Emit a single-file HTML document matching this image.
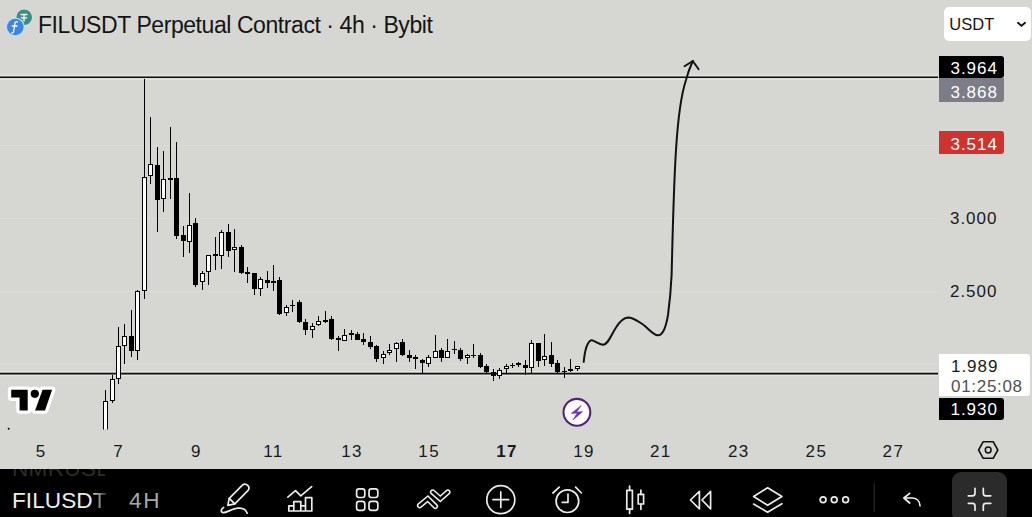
<!DOCTYPE html>
<html><head><meta charset="utf-8">
<style>
*{margin:0;padding:0;box-sizing:border-box}
html,body{width:1032px;height:517px;overflow:hidden}
body{background:#d6d7d2;position:relative;font-family:"Liberation Sans",sans-serif;color:#111}
.abs{position:absolute}
#title{left:38px;top:11.5px;font-size:23px;letter-spacing:-0.43px;white-space:nowrap;color:#141414}
.lbl{position:absolute;left:939px;width:65px;height:23px;font-size:17px;letter-spacing:0.95px;line-height:23px;color:#fff;padding-left:11.5px;border-radius:0 3px 3px 0}
.ax{position:absolute;font-size:17px;letter-spacing:0.95px;color:#1a1a1a;margin-top:1px}
.dt{position:absolute;top:441.5px;font-size:17px;letter-spacing:1.4px;text-indent:1.4px;color:#1a1a1a;transform:translateX(-50%)}
#tb{position:absolute;left:0;top:469px;width:1032px;height:48px;background:#000;overflow:hidden}
</style></head><body>
<svg class="abs" style="left:0;top:0" width="1032" height="517" viewBox="0 0 1032 517">
  <!-- grid -->
  <g stroke="#ffffff" stroke-opacity="0.12" stroke-width="1" shape-rendering="crispEdges">
   <line x1="0" y1="145.5" x2="938" y2="145.5"/>
   <line x1="0" y1="218.5" x2="938" y2="218.5"/>
   <line x1="0" y1="291.5" x2="938" y2="291.5"/>
   <line x1="0" y1="364.5" x2="938" y2="364.5"/>
  </g>
  <!-- line halos -->
  <g stroke="#f2f1ee" stroke-opacity="0.55" stroke-width="1.2">
   <line x1="0" y1="75.2" x2="938" y2="75.2"/>
   <line x1="0" y1="79.3" x2="938" y2="79.3"/>
   <line x1="0" y1="371.6" x2="938" y2="371.6"/>
   <line x1="0" y1="375.7" x2="938" y2="375.7"/>
  </g>
  <!-- horizontal lines -->
  <line x1="0" y1="77.2" x2="938" y2="77.2" stroke="#111" stroke-width="1.6"/>
  <line x1="0" y1="373.6" x2="938" y2="373.6" stroke="#111" stroke-width="1.6"/>
  <defs><clipPath id="cp"><rect x="0" y="0" width="940" height="429.5"/></clipPath></defs>
  <g stroke="#000" stroke-width="1" fill="none" shape-rendering="crispEdges" clip-path="url(#cp)">
  <line x1="105.5" y1="390.2" x2="105.5" y2="440.0"/>
<rect x="103.5" y="401.1" width="4" height="38.4" fill="#fff" stroke="#000" stroke-width="1"/>
<line x1="112.5" y1="374.7" x2="112.5" y2="403.4"/>
<rect x="110.5" y="379.9" width="4" height="20.2" fill="#fff" stroke="#000" stroke-width="1"/>
<line x1="118.5" y1="326.5" x2="118.5" y2="383.5"/>
<rect x="116.5" y="346.5" width="4" height="32.0" fill="#fff" stroke="#000" stroke-width="1"/>
<line x1="124.5" y1="323.5" x2="124.5" y2="364.0"/>
<rect x="122.5" y="336.0" width="4" height="9.0" fill="#fff" stroke="#000" stroke-width="1"/>
<line x1="131.5" y1="310.0" x2="131.5" y2="356.6"/>
<rect x="129" y="335.5" width="5" height="15.0" fill="#000" stroke="none"/>
<line x1="137.5" y1="289.5" x2="137.5" y2="359.6"/>
<rect x="135.5" y="291.5" width="4" height="58.5" fill="#fff" stroke="#000" stroke-width="1"/>
<line x1="144.5" y1="79.0" x2="144.5" y2="298.8"/>
<rect x="142.5" y="177.5" width="4" height="113.0" fill="#fff" stroke="#000" stroke-width="1"/>
<line x1="150.5" y1="117.0" x2="150.5" y2="184.0"/>
<rect x="148.5" y="164.5" width="4" height="11.0" fill="#fff" stroke="#000" stroke-width="1"/>
<line x1="157.5" y1="146.5" x2="157.5" y2="232.0"/>
<rect x="155" y="164.6" width="5" height="34.9" fill="#000" stroke="none"/>
<line x1="163.5" y1="151.0" x2="163.5" y2="212.0"/>
<rect x="161.5" y="179.3" width="4" height="19.6" fill="#fff" stroke="#000" stroke-width="1"/>
<line x1="170.5" y1="127.0" x2="170.5" y2="198.5"/>
<rect x="168" y="177.5" width="5" height="2.5" fill="#000" stroke="none"/>
<line x1="176.5" y1="142.0" x2="176.5" y2="239.0"/>
<rect x="174" y="177.5" width="5" height="58.5" fill="#000" stroke="none"/>
<line x1="183.5" y1="225.5" x2="183.5" y2="257.0"/>
<rect x="181" y="234.5" width="5" height="6.0" fill="#000" stroke="none"/>
<line x1="189.5" y1="192.5" x2="189.5" y2="252.6"/>
<rect x="187.5" y="225.1" width="4" height="15.9" fill="#fff" stroke="#000" stroke-width="1"/>
<line x1="195.5" y1="218.0" x2="195.5" y2="287.0"/>
<rect x="193" y="222.5" width="5" height="62.5" fill="#000" stroke="none"/>
<line x1="202.5" y1="271.0" x2="202.5" y2="290.0"/>
<rect x="200.5" y="273.0" width="4" height="8.5" fill="#fff" stroke="#000" stroke-width="1"/>
<line x1="208.5" y1="254.5" x2="208.5" y2="285.4"/>
<rect x="206.5" y="255.0" width="4" height="16.8" fill="#fff" stroke="#000" stroke-width="1"/>
<line x1="215.5" y1="237.0" x2="215.5" y2="270.0"/>
<rect x="213" y="253.5" width="5" height="2.0" fill="#000" stroke="none"/>
<line x1="221.5" y1="230.0" x2="221.5" y2="269.0"/>
<rect x="219.5" y="232.5" width="4" height="22.5" fill="#fff" stroke="#000" stroke-width="1"/>
<line x1="228.5" y1="223.5" x2="228.5" y2="257.4"/>
<rect x="226" y="232.0" width="5" height="18.6" fill="#000" stroke="none"/>
<line x1="234.5" y1="229.3" x2="234.5" y2="271.9"/>
<rect x="232.5" y="247.8" width="4" height="1.4" fill="#fff" stroke="#000" stroke-width="1"/>
<line x1="241.5" y1="245.4" x2="241.5" y2="273.8"/>
<rect x="239" y="247.0" width="5" height="26.2" fill="#000" stroke="none"/>
<line x1="247.5" y1="267.0" x2="247.5" y2="282.5"/>
<rect x="245" y="271.5" width="5" height="2.0" fill="#000" stroke="none"/>
<line x1="254.5" y1="272.9" x2="254.5" y2="295.0"/>
<rect x="252" y="272.9" width="5" height="16.0" fill="#000" stroke="none"/>
<line x1="260.5" y1="277.3" x2="260.5" y2="296.0"/>
<rect x="258.5" y="279.7" width="4" height="8.8" fill="#fff" stroke="#000" stroke-width="1"/>
<line x1="267.5" y1="271.0" x2="267.5" y2="288.3"/>
<rect x="265" y="279.6" width="5" height="3.4" fill="#000" stroke="none"/>
<line x1="273.5" y1="265.0" x2="273.5" y2="291.0"/>
<rect x="271.5" y="281.1" width="4" height="1.4" fill="#fff" stroke="#000" stroke-width="1"/>
<line x1="279.5" y1="276.7" x2="279.5" y2="314.5"/>
<rect x="277" y="279.7" width="5" height="33.8" fill="#000" stroke="none"/>
<line x1="286.5" y1="304.8" x2="286.5" y2="316.0"/>
<rect x="284.5" y="307.3" width="4" height="5.2" fill="#fff" stroke="#000" stroke-width="1"/>
<line x1="292.5" y1="300.0" x2="292.5" y2="311.6"/>
<rect x="290" y="304.8" width="5" height="1.6" fill="#000" stroke="none"/>
<line x1="299.5" y1="300.0" x2="299.5" y2="323.0"/>
<rect x="297" y="302.0" width="5" height="20.2" fill="#000" stroke="none"/>
<line x1="305.5" y1="319.3" x2="305.5" y2="334.8"/>
<rect x="303" y="321.8" width="5" height="7.8" fill="#000" stroke="none"/>
<line x1="312.5" y1="323.2" x2="312.5" y2="337.7"/>
<rect x="310.5" y="326.5" width="4" height="3.0" fill="#fff" stroke="#000" stroke-width="1"/>
<line x1="318.5" y1="315.5" x2="318.5" y2="326.0"/>
<rect x="316.5" y="321.8" width="4" height="2.7" fill="#fff" stroke="#000" stroke-width="1"/>
<line x1="325.5" y1="311.0" x2="325.5" y2="323.2"/>
<rect x="323" y="320.0" width="5" height="1.5" fill="#000" stroke="none"/>
<line x1="331.5" y1="316.4" x2="331.5" y2="339.5"/>
<rect x="329" y="319.3" width="5" height="19.9" fill="#000" stroke="none"/>
<line x1="338.5" y1="335.8" x2="338.5" y2="351.2"/>
<rect x="336" y="338.0" width="5" height="1.5" fill="#000" stroke="none"/>
<line x1="344.5" y1="329.0" x2="344.5" y2="341.0"/>
<rect x="342.5" y="335.9" width="4" height="4.2" fill="#fff" stroke="#000" stroke-width="1"/>
<line x1="351.5" y1="329.6" x2="351.5" y2="340.0"/>
<rect x="349" y="333.0" width="5" height="1.5" fill="#000" stroke="none"/>
<line x1="357.5" y1="331.5" x2="357.5" y2="340.0"/>
<rect x="355" y="334.4" width="5" height="5.2" fill="#000" stroke="none"/>
<line x1="363.5" y1="333.4" x2="363.5" y2="344.5"/>
<rect x="361" y="339.2" width="5" height="2.8" fill="#000" stroke="none"/>
<line x1="370.5" y1="335.8" x2="370.5" y2="349.3"/>
<rect x="368" y="341.8" width="5" height="5.2" fill="#000" stroke="none"/>
<line x1="376.5" y1="344.9" x2="376.5" y2="361.9"/>
<rect x="374" y="346.4" width="5" height="12.6" fill="#000" stroke="none"/>
<line x1="383.5" y1="351.3" x2="383.5" y2="363.8"/>
<rect x="381.5" y="354.7" width="4" height="2.8" fill="#fff" stroke="#000" stroke-width="1"/>
<line x1="389.5" y1="343.5" x2="389.5" y2="355.1"/>
<rect x="387.5" y="350.8" width="4" height="1.9" fill="#fff" stroke="#000" stroke-width="1"/>
<line x1="396.5" y1="342.2" x2="396.5" y2="361.9"/>
<rect x="394.5" y="343.1" width="4" height="5.7" fill="#fff" stroke="#000" stroke-width="1"/>
<line x1="402.5" y1="338.7" x2="402.5" y2="356.0"/>
<rect x="400" y="341.6" width="5" height="13.5" fill="#000" stroke="none"/>
<line x1="409.5" y1="350.3" x2="409.5" y2="361.9"/>
<rect x="407" y="354.5" width="5" height="3.5" fill="#000" stroke="none"/>
<line x1="415.5" y1="355.1" x2="415.5" y2="368.7"/>
<rect x="413" y="357.0" width="5" height="1.5" fill="#000" stroke="none"/>
<line x1="422.5" y1="359.0" x2="422.5" y2="373.5"/>
<rect x="420" y="359.6" width="5" height="3.8" fill="#000" stroke="none"/>
<line x1="428.5" y1="355.1" x2="428.5" y2="366.7"/>
<rect x="426.5" y="357.9" width="4" height="5.4" fill="#fff" stroke="#000" stroke-width="1"/>
<line x1="435.5" y1="334.8" x2="435.5" y2="358.0"/>
<rect x="433.5" y="351.2" width="4" height="5.9" fill="#fff" stroke="#000" stroke-width="1"/>
<line x1="441.5" y1="348.4" x2="441.5" y2="362.3"/>
<rect x="439" y="349.9" width="5" height="7.7" fill="#000" stroke="none"/>
<line x1="447.5" y1="338.7" x2="447.5" y2="358.0"/>
<rect x="445.5" y="351.2" width="4" height="5.9" fill="#fff" stroke="#000" stroke-width="1"/>
<line x1="454.5" y1="341.0" x2="454.5" y2="354.2"/>
<rect x="452" y="348.5" width="5" height="1.5" fill="#000" stroke="none"/>
<line x1="460.5" y1="348.4" x2="460.5" y2="361.0"/>
<rect x="458" y="350.3" width="5" height="8.7" fill="#000" stroke="none"/>
<line x1="467.5" y1="353.8" x2="467.5" y2="363.8"/>
<rect x="465.5" y="355.6" width="4" height="2.3" fill="#fff" stroke="#000" stroke-width="1"/>
<line x1="473.5" y1="344.1" x2="473.5" y2="358.0"/>
<rect x="471" y="354.5" width="5" height="1.5" fill="#000" stroke="none"/>
<line x1="480.5" y1="352.6" x2="480.5" y2="367.7"/>
<rect x="478" y="355.1" width="5" height="11.6" fill="#000" stroke="none"/>
<line x1="486.5" y1="363.8" x2="486.5" y2="373.1"/>
<rect x="484" y="365.8" width="5" height="6.2" fill="#000" stroke="none"/>
<line x1="493.5" y1="368.7" x2="493.5" y2="381.2"/>
<rect x="491" y="371.6" width="5" height="4.2" fill="#000" stroke="none"/>
<line x1="499.5" y1="367.7" x2="499.5" y2="379.3"/>
<rect x="497.5" y="370.1" width="4" height="5.2" fill="#fff" stroke="#000" stroke-width="1"/>
<line x1="506.5" y1="363.8" x2="506.5" y2="373.1"/>
<rect x="504.5" y="366.3" width="4" height="2.4" fill="#fff" stroke="#000" stroke-width="1"/>
<line x1="512.5" y1="362.9" x2="512.5" y2="367.7"/>
<rect x="510" y="364.6" width="5" height="1.5" fill="#000" stroke="none"/>
<line x1="518.5" y1="361.9" x2="518.5" y2="366.7"/>
<rect x="516" y="363.0" width="5" height="1.5" fill="#000" stroke="none"/>
<line x1="525.5" y1="360.0" x2="525.5" y2="375.0"/>
<rect x="523" y="365.4" width="5" height="2.7" fill="#000" stroke="none"/>
<line x1="531.5" y1="339.7" x2="531.5" y2="372.8"/>
<rect x="529.5" y="343.8" width="4" height="23.2" fill="#fff" stroke="#000" stroke-width="1"/>
<line x1="538.5" y1="342.6" x2="538.5" y2="366.7"/>
<rect x="536" y="343.0" width="5" height="17.5" fill="#000" stroke="none"/>
<line x1="544.5" y1="333.5" x2="544.5" y2="366.0"/>
<rect x="542.5" y="356.0" width="4" height="3.8" fill="#fff" stroke="#000" stroke-width="1"/>
<line x1="551.5" y1="342.3" x2="551.5" y2="366.7"/>
<rect x="549" y="355.2" width="5" height="8.3" fill="#000" stroke="none"/>
<line x1="557.5" y1="360.3" x2="557.5" y2="372.5"/>
<rect x="555" y="363.0" width="5" height="9.1" fill="#000" stroke="none"/>
<line x1="564.5" y1="366.7" x2="564.5" y2="378.0"/>
<rect x="562" y="370.5" width="5" height="1.5" fill="#000" stroke="none"/>
<line x1="570.5" y1="358.6" x2="570.5" y2="372.0"/>
<rect x="568" y="369.4" width="5" height="1.5" fill="#000" stroke="none"/>
<line x1="577.5" y1="365.8" x2="577.5" y2="371.4"/>
<rect x="575.5" y="366.3" width="4" height="1.7" fill="#fff" stroke="#000" stroke-width="1"/>

  </g>
  <!-- hand drawn curve -->
  <path d="M583.7,361.8 C584.5,355 585,349 587.5,344.5 C589,341.5 590.5,340 592,340.3 C595,341 599,344.5 603,344.7 C608,345 611,335 616,327.5 C620,321 624,317.5 628,317.4 C634,317.5 638,321.5 643,324.5 C648,328 653,335 658,335.3 C663,335.5 666,327 668,315 C670,300 671,288 671.6,275 C672.5,240 673.5,190 676,150 C678,118 681,95 686,80 C688,72 690.5,66 692.8,61" stroke="#111" stroke-width="2" fill="none" stroke-linecap="round"/>
  <path d="M684.5,66.2 L692.8,61 L698.6,69.3" stroke="#111" stroke-width="1.9" fill="none" stroke-linecap="round" stroke-linejoin="round"/>
  <!-- TV logo -->
  <g stroke="#fff" stroke-width="6.6" stroke-linejoin="round" fill="#fff">
   <path d="M11.2,389.8 H27.7 V410.4 H19.6 V397.6 H11.2 Z"/>
   <circle cx="34.8" cy="393.8" r="4.1"/>
   <path d="M42.6,389.8 H52.1 L45,410.4 H35.1 Z"/>
   <path d="M27.7,392 H42 V408 H27.7 Z"/>
  </g>
  <path d="M11.2,389.8 H27.7 V410.4 H19.6 V397.6 H11.2 Z" fill="#000"/>
  <circle cx="34.8" cy="393.8" r="4.1" fill="#000"/>
  <path d="M42.6,389.8 H52.1 L45,410.4 H35.1 Z" fill="#000"/>
  <circle cx="8.7" cy="428.8" r="1" fill="#000"/>
  <!-- lightning -->
  <circle cx="576.9" cy="412.3" r="14.2" fill="#fbe6fb"/>
  <circle cx="576.9" cy="412.3" r="13.4" fill="#fdfbfd" stroke="#512478" stroke-width="2.1"/>
  <path d="M581.2,405.6 L571.3,413.4 L577.2,413.1 L573,419.9 L582.5,411.7 L576.6,412 Z" fill="#6f35b5" stroke="#6f35b5" stroke-width="0.6" stroke-linejoin="round"/>
  <!-- hexagon -->
  <path d="M978.6,450 L983.2,441.7 H993.2 L997.8,450 L993.2,458.3 H983.2 Z" stroke="#111" stroke-width="1.6" fill="none" stroke-linejoin="round"/>
  <circle cx="988.2" cy="450" r="2.9" stroke="#111" stroke-width="1.5" fill="none"/>
  <!-- coin logos -->
  <circle cx="24.2" cy="17.3" r="8.6" fill="#cfe3df"/>
  <circle cx="24.2" cy="17.3" r="7.8" fill="#3d8c85"/>
  <path d="M20.5,14.6 H27.5 M24,14.6 V21.5 M21,17.3 C22.5,18.3 25.5,18.3 27,17.3" stroke="#e8f4f2" stroke-width="1.5" fill="none"/>
  <circle cx="15.3" cy="27" r="9.6" fill="#c4d8f6"/>
  <circle cx="15.3" cy="27" r="8.3" fill="#3d86df"/>
  <path d="M17.5,21.8 C16,21.3 15,22.3 14.8,24 L13.6,31.5 C13.4,32.6 12.6,33 11.8,32.8 M12.2,26 H17" stroke="#fff" stroke-width="1.3" fill="none" stroke-linecap="round"/>
</svg>
<div id="title" class="abs">FILUSDT Perpetual Contract · 4h · Bybit</div>
<!-- USDT dropdown -->
<div class="abs" style="left:943.7px;top:6.8px;width:87px;height:34.3px;background:#fff;border-radius:5px"></div>
<div class="abs" style="left:949.3px;top:14.6px;font-size:16.5px;color:#151515">USDT</div>
<svg class="abs" style="left:1014px;top:19px" width="14" height="10"><path d="M4,3.8 L7.5,6.9 L11,3.8" stroke="#111" stroke-width="1.9" fill="none" stroke-linecap="round" stroke-linejoin="round"/></svg>
<!-- price labels -->
<div class="lbl" style="top:56px;height:22.4px;line-height:26.4px;background:#000">3.964</div>
<div class="lbl" style="top:78.4px;height:24px;line-height:29px;background:#7c7d88;border-radius:0 0 3px 0">3.868</div>
<div class="lbl" style="top:130.8px;height:23.5px;line-height:27.5px;background:#d0332f">3.514</div>
<div class="ax" style="left:950px;top:208px">3.000</div>
<div class="ax" style="left:950px;top:281px">2.500</div>
<div class="abs" style="left:938.5px;top:353.5px;width:91.3px;height:42.5px;background:#fff;border-radius:0 3px 3px 0"></div>
<div class="ax" style="left:951px;top:356px;color:#1a1a1a">1.989</div>
<div class="ax" style="left:951px;top:376px;color:#505050;letter-spacing:0.7px">01:25:08</div>
<div class="lbl" style="top:397.6px;height:22.4px;line-height:24.4px;background:#000">1.930</div>
<!-- dates -->
<div class="dt" style="left:40.5px">5</div>
<div class="dt" style="left:118px">7</div>
<div class="dt" style="left:195.7px">9</div>
<div class="dt" style="left:272.7px">11</div>
<div class="dt" style="left:351.3px">13</div>
<div class="dt" style="left:428.5px">15</div>
<div class="dt" style="left:506.4px;font-weight:bold">17</div>
<div class="dt" style="left:583.4px">19</div>
<div class="dt" style="left:660.1px">21</div>
<div class="dt" style="left:738.1px">23</div>
<div class="dt" style="left:815.7px">25</div>
<div class="dt" style="left:892.7px">27</div>
<!-- toolbar -->
<div id="tb">
  <div class="abs" style="left:12px;top:-13px;width:92.5px;overflow:hidden;white-space:nowrap;font-size:22.6px;letter-spacing:0.3px;line-height:26px;color:#2c2c2c">NMRUSDT</div>
  <div class="abs" style="left:12px;top:18.5px;font-size:22.6px;letter-spacing:0.05px;color:#ececec;line-height:26px">FILUSD<span style="background:linear-gradient(90deg,#d0d0d0 0%,#909090 45%,#2a2a2a 100%);-webkit-background-clip:text;background-clip:text;color:transparent">T</span></div>
  <div class="abs" style="left:129px;top:18.5px;font-size:22.6px;letter-spacing:1.6px;color:#a8a8a8;line-height:26px">4H</div>
  <div class="abs" style="left:952px;top:3px;width:55px;height:50px;background:#2b2b2b;border-radius:9px"></div>
  <svg class="abs" style="left:0;top:-469px" width="1032" height="517" viewBox="0 0 1032 517">
   <g stroke="#ececec" stroke-width="1.7" fill="none" stroke-linecap="round" stroke-linejoin="round">
    <!-- pencil -->
    <path d="M227.8,505.4 L229.3,498.3 L242.4,485.2 A3.9,3.9 0 0 1 247.9,490.7 L234.8,503.8 Z"/>
    <path d="M229.3,498.3 L234.8,503.8"/>
    <path d="M223.6,507.5 C221,509 220.3,512 222.8,512.6 C226,513.2 232,508.6 238,508.2 C242.5,507.9 246,509.8 247.2,513.2"/>
    <!-- indicators -->
    <path d="M287.9,497.1 L295.5,490.7 L300.7,495.9 L311.7,486.6"/>
    <path d="M288.8,511 V505.8 H293.8 V511 M293.8,511 V501.7 H300.8 V511 M300.8,511 V505.8 H305.5 V511 M305.5,511 V497.7 H311.8 V511 Z M288.8,511 H311.8"/>
    <!-- grid -->
    <rect x="356.6" y="488.9" width="8.2" height="8.6" rx="2.4"/>
    <rect x="369" y="488.9" width="8.8" height="8.6" rx="2.4"/>
    <rect x="356.6" y="501.4" width="8.2" height="8.9" rx="2.4"/>
    <rect x="369" y="501.4" width="8.8" height="8.9" rx="2.4"/>
    <!-- plus circle -->
    <circle cx="500.8" cy="499.7" r="14"/>
    <path d="M493,499.7 H508.6 M500.8,491.9 V507.5"/>
    <!-- alarm -->
    <circle cx="567.4" cy="501.2" r="11.3"/>
    <path d="M568,494.2 V502.3 H562.2"/>
    <path d="M552.9,493 L559.3,487.2 M575.6,487.2 L581.4,493"/>
    <!-- candles icon -->
    <rect x="626.8" y="490.3" width="5.6" height="18.8"/>
    <path d="M629.6,486 V490.3 M629.6,509.1 V513.4"/>
    <rect x="638.2" y="494.4" width="5.4" height="9.6"/>
    <path d="M640.9,490.1 V494.4 M640.9,504 V509.3"/>
    <!-- replay -->
    <path d="M690.4,500 L699.4,491.3 V508.9 Z M702,500 L710.6,491.3 V508.9 Z"/>
    <!-- layers -->
    <path d="M753.6,496.5 L767.6,487.8 L781.9,496.5 L767.6,505.3 Z"/>
    <path d="M753.6,504.1 L767.6,512.2 L781.9,503.7"/>
    <!-- dots -->
    <circle cx="823.1" cy="499.7" r="2.9"/>
    <circle cx="834.2" cy="499.7" r="2.9"/>
    <circle cx="845.6" cy="499.7" r="2.9"/>
    <!-- undo -->
    <path d="M909.7,493.3 L903.9,498 L909.7,503 M903.9,498 H912 C916.5,498 919.8,501 920,505.8"/>
    <!-- collapse -->
    <path d="M975,488.3 V493.3 Q975,495.8 972.5,495.8 H968.3 M983.3,488.3 V493.3 Q983.3,495.8 985.8,495.8 H990.8 M968.3,503.3 H972.5 Q975,503.3 975,505.8 V510.3 M990.8,503.3 H985.8 Q983.3,503.3 983.3,505.8 V510.3"/>
   </g>
   <!-- zigzag (templates) -->
   <g fill="none" stroke-linecap="round" stroke-linejoin="miter">
    <path d="M419.7,505.5 L427.8,498.8 L435.3,506.3 M432.7,492.1 L440.3,498.8 L447.8,492.1" stroke="#eee" stroke-width="5.6"/>
    <path d="M419.7,505.5 L427.8,498.8 L435.3,506.3 M432.7,492.1 L440.3,498.8 L447.8,492.1" stroke="#000" stroke-width="2.6"/>
   </g>
   <line x1="874.2" y1="483.3" x2="874.2" y2="511.7" stroke="#2a2a2a" stroke-width="1.2"/>
  </svg>
</div>
</body></html>
